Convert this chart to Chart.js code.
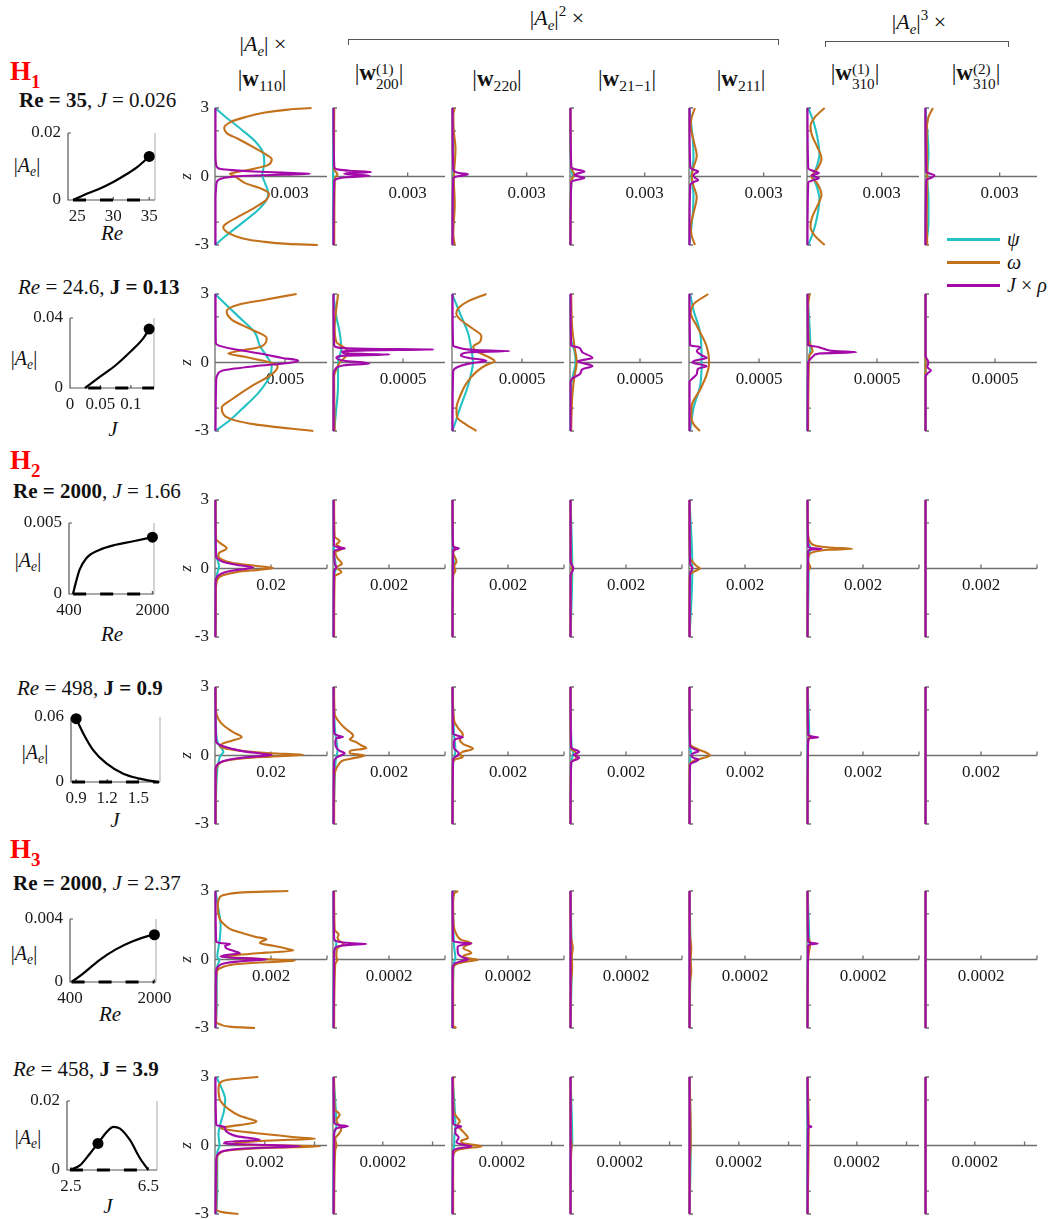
<!DOCTYPE html>
<html>
<head>
<meta charset="utf-8">
<script src="https://cdn.jsdelivr.net/npm/chart.js@4.4.1/dist/chart.umd.min.js"></script>
<style>
  body { margin: 0; background: #fff; }
  #fig { position: relative; width: 1057px; height: 1219px; overflow: hidden; background: #fff;
         font-family: "Liberation Serif", "Times New Roman", serif; color: #111; }
  #fig canvas { position: absolute; }
  .t { position: absolute; white-space: nowrap; transform: translate(-50%, -50%); line-height: 1; }
  .t sub { font-size: 68%; vertical-align: -0.32em; line-height: 0; }
  .t sup { font-size: 68%; vertical-align: 0.6em; line-height: 0; }
  .st { display: inline-block; vertical-align: -0.6em; font-size: 66%; line-height: 1.0; }
  .st > span { display: block; }
  .bracket { position: absolute; border: 1.3px solid #555; border-bottom: none; height: 5px; }
  .lg { position: absolute; height: 3px; width: 53px; }
</style>
</head>
<body>
<div id="fig"></div>
<script>
// ---------- curve colours ----------
const PSI = '#25c1c3', OMEGA = '#c3711b', JRHO = '#a40aa9';
const AXIS = '#6f6f6f', INK = '#1a1a1a';
const FONT = '"Liberation Serif","Times New Roman",serif';

// ---------- row parameters ----------
const rowRe = [35, 24.6, 2000, 498, 2000, 458];
const rowJ = [0.026, 0.13, 1.66, 0.9, 2.37, 3.9];
const rowBold = ['Re', 'J', 'Re', 'J', 'Re', 'J'];
const rowBranch = ['1', null, '2', null, '3', null];

// ---------- axis limits and ticks of the profile panels ----------
const zLabels = [3, 0, -3];
const zTickMarks = [-3, -2, 2, 3];
const rowXmax = [[0.0045, 0.0045], [0.008, 0.0008], [0.04, 0.004], [0.04, 0.004], [0.004, 0.0004], [0.0045, 0.00045]];
const rowXticks = [
  [[0.003], [0.003]], [[0.005], [0.0005]],
  [[0.02, 0.04], [0.002, 0.004]], [[0.02, 0.04], [0.002, 0.004]],
  [[0.002, 0.004], [0.0002, 0.0004]], [[0.002, 0.004], [0.0002, 0.0004]]
];
const modeSub = ['110', '200', '220', '21\u22121', '211', '310', '310'];
const modeSup = [null, '1', null, null, null, '1', '2'];

// ---------- profiles: pairs of (z, |component|), one list per mode ----------
const psiR1 = [
  [3,0, 2.63,0.0004, 2.05,0.00107, 1.54,0.00161, 1.02,0.00194, 0.59,0.00198, 0.07,0.0019, -0.29,0.00201, -0.73,0.00214, -1.02,0.00207, -1.46,0.00174, -2.05,0.00107, -2.63,0.0004, -3,0],
  [3,0.00001, -3,0.00001],
  [3,0.00004, 0,0.00005, -3,0.00004],
  [3,0.00001, 0.3,0.00005, 0,0.00011, -0.3,0.00005, -3,0.00001],
  [3,0.00002, 2.3,0.00009, 1.5,0.00016, 0.8,0.00018, 0,0.00009, -0.8,0.00018, -1.5,0.00016, -2.3,0.00009, -3,0.00002],
  [3,0.00005, 2.5,0.00023, 2,0.00036, 1.5,0.00045, 1,0.0005, 0.5,0.00041, 0,0.00027, -0.5,0.00041, -1,0.0005, -1.5,0.00045, -2,0.00036, -2.5,0.00023, -3,0.00005],
  [3,0.00002, 1,0.00014, 0,0.00009, -1,0.00014, -2,0.00014, -3,0.00005]
];
const omegaR1 = [
  [3,0.00388, 2.93,0.00295, 2.8,0.00201, 2.6,0.00121, 2.37,0.0006, 2.12,0.00037, 1.9,0.00047, 1.64,0.00094, 1.24,0.00161, 0.95,0.00207, 0.76,0.00228, 0.51,0.00214, 0.32,0.00147, 0.18,0.00081, 0.12,0.0006, 0,0.00081, -0.15,0.00101, -0.29,0.00121, -0.51,0.00181, -0.76,0.00217, -1.02,0.00207, -1.35,0.00161, -1.76,0.00094, -2.05,0.00047, -2.22,0.00033, -2.5,0.00059, -2.7,0.00108, -2.85,0.00189, -2.95,0.00293, -3,0.00413],
  [3,0.00005, 1,0.00004, 0.3,0.00005, 0.1,0.00018, -0.1,0.00007, -3,0.00005],
  [3,0.00011, 2.7,0.00005, 2,0.00007, 1.2,0.00014, 0.3,0.00009, 0,0.00007, -1.2,0.00011, -2.5,0.00005, -3,0.00011],
  [3,0.00002, 0.4,0.00005, 0.1,0.00016, -0.2,0.00005, -3,0.00002],
  [3,0.00024, 2.6,0.00011, 2.2,0.00007, 1.6,0.00018, 0.9,0.00031, 0.4,0.00018, 0,0.00011, -0.4,0.00018, -0.9,0.00031, -1.6,0.00018, -2.2,0.00007, -2.6,0.00011, -3,0.00024],
  [3,0.00071, 2.6,0.00032, 2.2,0.00014, 1.8,0.0002, 1.3,0.00041, 0.8,0.00058, 0.4,0.00045, 0.1,0.00023, 0,0.00018, -0.3,0.00041, -0.8,0.00058, -1.3,0.00041, -1.8,0.0002, -2.2,0.00014, -2.6,0.00032, -3,0.00071],
  [3,0.00032, 2.6,0.00014, 2,0.00007, 0,0.00009, -2,0.00007, -3,0.00009]
];
const jrhoR1 = [
  [3,0.00002, 1,0.00002, 0.5,0.00005, 0.4,0.00009, 0.33,0.00023, 0.28,0.00068, 0.22,0.00158, 0.17,0.0027, 0.12,0.00382, 0.08,0.0027, 0.03,0.00135, -0.03,0.00054, -0.1,0.00023, -0.2,0.00009, -0.4,0.00005, -1,0.00002, -3,0.00002],
  [3,0.00002, 0.4,0.00005, 0.3,0.00023, 0.25,0.00068, 0.2,0.00154, 0.15,0.00068, 0.12,0.00045, 0.08,0.0009, 0.03,0.00147, -0.03,0.00054, -0.1,0.00018, -0.2,0.00005, -3,0.00002],
  [3,0.00002, 0.3,0.00005, 0.2,0.00014, 0.14,0.00036, 0.1,0.00064, 0.05,0.00045, 0,0.00018, -0.1,0.00005, -3,0.00002],
  [3,0.00002, 0.4,0.00005, 0.33,0.00018, 0.22,0.00058, 0.12,0.00027, 0.07,0.00018, 0.02,0.00027, -0.07,0.00058, -0.17,0.00018, -0.25,0.00005, -3,0.00002],
  [3,0.00002, 0.4,0.00005, 0.3,0.00018, 0.22,0.00037, 0.12,0.00023, 0.05,0.00018, -0.05,0.00023, -0.15,0.00037, -0.25,0.00018, -0.35,0.00005, -3,0.00002],
  [3,0.00002, 0.35,0.00005, 0.25,0.00023, 0.15,0.00048, 0.05,0.00018, -0.07,0.00048, -0.17,0.00023, -0.25,0.00005, -3,0.00002],
  [3,0.00002, 0.2,0.00005, 0.05,0.00038, -0.05,0.00027, -0.15,0.00005, -3,0.00002]
];

const psiR2 = [
  [3,0, 2.02,0.00166, 1.3,0.00286, 0.71,0.00322, 0.28,0.00369, -0.16,0.00405, -0.6,0.00392, -1.33,0.0031, -2.05,0.0019, -2.64,0.00083, -3,0],
  [3,0.0000024, 2,0.000024, 1.3,0.000048, 0.6,0.000059, 0,0.000036, -1,0.000036, -2,0.000024, -3,0.000008],
  [3,0, 2.02,0.000066, 1.3,0.000114, 0.57,0.000138, 0,0.00015, -0.45,0.000138, -1.03,0.000114, -2.05,0.000054, -2.9,0.000008, -3,0],
  [3,0.000004, 1,0.000008, 0.5,0.000032, 0,0.00004, -0.5,0.000024, -1,0.000008, -3,0.000004],
  [3,0.000008, 2.3,0.000032, 1.3,0.00008, 0,0.00009, -1,0.00008, -2,0.000032, -3,0.000008],
  [3,0.000004, 0.6,0.000024, 0,0.000008, -3,0.000004],
  [3,0.000004, -3,0.000004]
];
const omegaR2 = [
  [3,0.00583, 2.75,0.00357, 2.53,0.00166, 2.24,0.00083, 1.88,0.00119, 1.44,0.00262, 1.08,0.00369, 0.71,0.00334, 0.5,0.00166, 0.39,0.00095, 0.25,0.00214, -0.02,0.00405, -0.16,0.00448, -0.52,0.00405, -1.03,0.00262, -1.62,0.00119, -1.98,0.00048, -2.34,0.00071, -2.71,0.00286, -3,0.00702],
  [3,0.000036, 1.5,0.000012, 0.9,0.000024, 0.5,0.000107, 0.3,0.000096, 0,0.000048, -0.3,0.000024, -0.6,0.000008, -3,0.000012],
  [3,0.000246, 2.7,0.00012, 2.4,0.000048, 2.15,0.000031, 1.9,0.000056, 1.5,0.000144, 1.15,0.00021, 0.9,0.0002, 0.7,0.000152, 0.55,0.00016, 0.35,0.000224, 0.15,0.000288, 0.05,0.000305, -0.1,0.000248, -0.4,0.000176, -0.9,0.000104, -1.5,0.000056, -2,0.000032, -2.4,0.000036, -2.7,0.000096, -3,0.000174],
  [3,0.000008, 1.5,0.000016, 0.7,0.000032, 0,0.000048, -0.6,0.000032, -1.5,0.000016, -3,0.000008],
  [3,0.000138, 2.6,0.00004, 2.17,0.000012, 1.6,0.000056, 0.71,0.000126, 0,0.000144, -0.5,0.000128, -1.18,0.00008, -1.9,0.000019, -2.4,0.000016, -2.7,0.000032, -3,0.000078],
  [3,0.000019, 2.5,0.000008, 1,0.000012, 0.5,0.00004, 0.3,0.000016, -3,0.000008],
  [3,0.000004, -3,0.000004]
];
const jrhoR2 = [
  [3,0.00004, 0.85,0.00006, 0.75,0.00024, 0.6,0.0012, 0.5,0.00216, 0.35,0.0036, 0.2,0.0048, 0.09,0.00595, -0.02,0.00524, -0.16,0.00286, -0.33,0.00071, -0.52,0.00019, -0.8,0.00008, -3,0.00004],
  [3,0.000004, 0.75,0.000008, 0.65,0.00004, 0.6,0.00024, 0.57,0.00072, 0.53,0.00024, 0.47,0.000064, 0.4,0.00008, 0.35,0.000405, 0.3,0.00008, 0.2,0.000024, 0.08,0.00008, -0.04,0.00026, -0.12,0.00008, -0.3,0.000016, -0.5,0.000004, -3,0.000004],
  [3,0.000004, 0.75,0.000008, 0.65,0.000048, 0.55,0.00016, 0.5,0.000412, 0.45,0.00012, 0.3,0.000064, 0.2,0.00012, 0.08,0.000246, -0.05,0.00012, -0.2,0.00004, -0.4,0.000008, -3,0.000004],
  [3,0.000004, 0.75,0.000008, 0.65,0.000064, 0.45,0.000088, 0.2,0.00016, 0.05,0.000056, -0.15,0.00016, -0.3,0.000088, -0.5,0.000072, -0.7,0.000016, -0.9,0.000004, -3,0.000004],
  [3,0.000004, 0.75,0.000008, 0.68,0.00008, 0.5,0.000056, 0.3,0.000096, 0.2,0.000126, 0.08,0.00004, 0,0.000024, -0.16,0.000126, -0.28,0.000064, -0.5,0.000056, -0.7,0.000024, -0.85,0.000004, -3,0.000004],
  [3,0.000004, 0.75,0.000008, 0.68,0.00008, 0.6,0.00012, 0.5,0.0002, 0.45,0.000352, 0.4,0.000096, 0.3,0.000048, 0.15,0.000024, 0,0.000008, -3,0.000004],
  [3,0.000004, 0.3,0.000004, 0,0.000024, -0.2,0.000016, -0.35,0.000043, -0.45,0.000024, -0.6,0.000004, -3,0.000004]
];

const psiR3 = [
  [3,0.0002, 1,0.00024, 0.5,0.0006, 0.1,0.00144, -0.2,0.0008, -0.6,0.00032, -3,0.0002],
  [3,0.00002, 0.6,0.00004, 0.3,0.00008, 0,0.0001, -0.3,0.00004, -3,0.00002],
  [3,0.00002, 0.5,0.00004, 0.2,0.00008, -0.2,0.00004, -3,0.00002],
  [3,0.00002, 0,0.00008, -3,0.00002],
  [3,0.00002, 0,0.00012, -3,0.00002],
  [3,0.00002, 1.2,0.00004, 0.86,0.00012, 0.5,0.00004, 0,0.00006, -3,0.00002],
  [3,0.00002, -3,0.00002]
];
const omegaR3 = [
  [3,0.0002, 1.3,0.00032, 1.1,0.002, 0.88,0.00416, 0.7,0.0016, 0.55,0.0012, 0.4,0.0024, 0.25,0.006, 0.15,0.012, 0.07,0.018, 0.02,0.0208, -0.05,0.016, -0.15,0.008, -0.3,0.0028, -0.5,0.0008, -1,0.00032, -3,0.0002],
  [3,0.00004, 1.4,0.00006, 1.2,0.00024, 1.05,0.00012, 0.88,0.00032, 0.7,0.00008, 0.45,0.00016, 0.2,0.00032, 0.05,0.00012, -0.15,0.0003, -0.35,0.00006, -3,0.00004],
  [3,0.00002, 1,0.00004, 0.88,0.00014, 0.7,0.00004, 0.3,0.00016, 0.1,0.00008, -0.1,0.00012, -0.3,0.00004, -3,0.00002],
  [3,0.00002, 0.3,0.00004, 0,0.00008, -0.3,0.00004, -3,0.00002],
  [3,0.00002, 0.5,0.00003, 0.3,0.00012, 0.1,0.00028, 0,0.00039, -0.1,0.00024, -0.21,0.00008, -0.4,0.00002, -3,0.00002],
  [3,0.00002, 1.5,0.00004, 1.15,0.00012, 1,0.00032, 0.92,0.0008, 0.86,0.00162, 0.82,0.0008, 0.72,0.00024, 0.6,0.00008, 0.3,0.00004, 0.05,0.00012, -0.1,0.00004, -3,0.00002],
  [3,0.00002, -3,0.00002]
];
const jrhoR3 = [
  [3,0.00016, 0.5,0.0004, 0.37,0.0016, 0.25,0.004, 0.15,0.008, 0.05,0.01368, 0,0.012, -0.1,0.006, -0.2,0.0028, -0.35,0.0008, -0.6,0.0002, -3,0.00016],
  [3,0.00002, 1,0.00004, 0.92,0.00024, 0.88,0.00042, 0.84,0.0002, 0.75,0.00004, 0.2,0.00006, 0.05,0.00012, -0.1,0.00004, -3,0.00002],
  [3,0.00002, 0.95,0.00004, 0.88,0.00024, 0.82,0.00004, -3,0.00002],
  [3,0.00002, 0.3,0.00002, 0,0.00012, -0.3,0.00002, -3,0.00002],
  [3,0.00002, 0.2,0.00004, 0,0.00012, -0.2,0.00004, -3,0.00002],
  [3,0.00002, 0.95,0.00004, 0.88,0.00024, 0.86,0.00052, 0.83,0.0002, 0.78,0.00004, -3,0.00002],
  [3,0.00002, -3,0.00002]
];

const psiR4 = [
  [3,0.0002, 1,0.0004, 0.5,0.0012, 0.15,0.003, 0,0.002, -0.3,0.0012, -1,0.0006, -3,0.0002],
  [3,0.00002, 1,0.00008, 0.5,0.00014, 0.15,0.00016, 0,0.00012, -0.5,0.00008, -3,0.00002],
  [3,0.00002, 0.8,0.00008, 0.3,0.00012, 0,0.0001, -0.3,0.00004, -3,0.00002],
  [3,0.00002, 0.3,0.00006, 0.1,0.00012, -0.1,0.00008, -0.4,0.00004, -3,0.00002],
  [3,0.00002, 0.3,0.00004, 0.1,0.00008, -0.2,0.00004, -3,0.00002],
  [3,0.00002, 0.8,0.00008, 0.5,0.00002, -3,0.00002],
  [3,0.00002, -3,0.00002]
];
const omegaR4 = [
  [3,0.00024, 2,0.00032, 1.6,0.0012, 1.3,0.0032, 1,0.0068, 0.8,0.00952, 0.65,0.006, 0.5,0.0024, 0.39,0.0018, 0.3,0.004, 0.2,0.01, 0.1,0.02, 0.03,0.03156, -0.05,0.02, -0.12,0.01072, -0.25,0.0032, -0.4,0.0012, -0.7,0.0004, -3,0.00024],
  [3,0.00004, 1.8,0.00006, 1.5,0.0002, 1.2,0.00042, 0.95,0.00068, 0.85,0.00072, 0.7,0.0006, 0.6,0.0008, 0.45,0.001, 0.32,0.00119, 0.2,0.0006, 0.1,0.0006, 0,0.00113, -0.1,0.0008, -0.2,0.0004, -0.4,0.0002, -0.7,0.00008, -1,0.00005, -3,0.00004],
  [3,0.00002, 1.5,0.00008, 1.2,0.00022, 0.9,0.00039, 0.7,0.00028, 0.5,0.0004, 0.3,0.00075, 0.15,0.00036, 0.05,0.00028, -0.05,0.00039, -0.2,0.00008, -0.4,0.00003, -3,0.00002],
  [3,0.00002, 0.3,0.00004, 0.15,0.0002, 0,0.00024, -0.15,0.0002, -0.3,0.00004, -3,0.00002],
  [3,0.00002, 0.5,0.00004, 0.36,0.00016, 0.2,0.00048, 0.05,0.00072, 0,0.00075, -0.08,0.0006, -0.2,0.00024, -0.3,0.00008, -0.5,0.00002, -3,0.00002],
  [3,0.00002, 1,0.00004, 0.8,0.00008, 0.6,0.00004, -3,0.00002],
  [3,0.00002, -3,0.00002]
];
const jrhoR4 = [
  [3,0.00016, 0.6,0.0004, 0.45,0.002, 0.3,0.006, 0.17,0.0108, 0.08,0.0168, 0.02,0.02024, -0.05,0.014, -0.12,0.008, -0.25,0.0028, -0.4,0.0008, -0.6,0.0002, -3,0.00016],
  [3,0.00002, 1,0.00004, 0.86,0.0002, 0.82,0.00036, 0.75,0.00012, 0.55,0.00008, 0.35,0.00012, 0.2,0.00024, 0.1,0.00042, 0,0.00028, -0.1,0.00012, -0.25,0.00004, -3,0.00002],
  [3,0.00002, 0.95,0.00004, 0.85,0.00024, 0.8,0.00039, 0.72,0.00012, 0.5,0.00006, 0.3,0.00008, 0.1,0.00024, 0,0.0002, -0.15,0.00004, -3,0.00002],
  [3,0.00002, 0.35,0.00004, 0.15,0.00033, 0.03,0.00012, -0.1,0.00033, -0.3,0.00004, -3,0.00002],
  [3,0.00002, 0.4,0.00004, 0.3,0.00016, 0.19,0.00034, 0.1,0.00016, 0,0.00008, -0.1,0.00016, -0.19,0.00034, -0.3,0.00016, -0.4,0.00004, -3,0.00002],
  [3,0.00002, 0.9,0.00004, 0.82,0.00024, 0.8,0.0004, 0.77,0.00016, 0.7,0.00004, -3,0.00002],
  [3,0.00002, -3,0.00002]
];

const psiR5 = [
  [3,0.00002, 2.5,0.00008, 1.5,0.0002, 1,0.00018, 0.5,0.00012, 0.1,0.00008, 0,0.00016, -0.3,0.00008, -1,0.00006, -2,0.00006, -3,0.00002],
  [3,0.000002, 0.9,0.000004, 0.7,0.000012, 0.3,0.000004, -3,0.000002],
  [3,0.000002, 1,0.000006, 0.5,0.000008, 0.1,0.000012, -0.2,0.000006, -3,0.000002],
  [3,0.000002, 0,0.000006, -3,0.000002],
  [3,0.000002, 0.3,0.000005, -3,0.000002],
  [3,0.000002, 0.7,0.000008, 0.3,0.000004, -3,0.000002],
  [3,0.000002, -3,0.000002]
];
const omegaR5 = [
  [3,0.00262, 2.95,0.0012, 2.85,0.0004, 2.7,0.00016, 2.4,0.0001, 2,0.00012, 1.7,0.0002, 1.5,0.00036, 1.3,0.0006, 1.15,0.001, 1,0.00143, 0.88,0.00184, 0.8,0.00168, 0.72,0.0016, 0.6,0.00208, 0.45,0.00264, 0.39,0.0028, 0.3,0.0018, 0.2,0.0008, 0.12,0.00024, 0.05,0.0012, -0.02,0.0024, -0.06,0.00286, -0.12,0.0018, -0.2,0.0008, -0.35,0.00024, -0.5,0.00008, -1,0.00004, -2.7,0.00004, -2.85,0.0002, -2.95,0.0006, -3,0.00143],
  [3,0.000004, 1.3,0.000006, 1.1,0.00002, 0.95,0.000016, 0.8,0.000024, 0.68,0.00004, 0.55,0.00002, 0.3,0.000012, 0.1,0.000012, 0,0.000016, -0.2,0.000008, -3,0.000004],
  [3,0.000022, 2.9,0.000008, 2.5,0.000004, 1.5,0.000006, 1.1,0.000016, 0.86,0.000033, 0.72,0.000069, 0.6,0.000048, 0.5,0.00004, 0.35,0.000064, 0.28,0.000069, 0.15,0.00004, 0.05,0.00006, -0.01,0.000093, -0.1,0.000048, -0.2,0.000016, -0.4,0.000004, -2.9,0.000004, -3,0.000016],
  [3,0.000002, 1,0.000004, 0.5,0.00001, 0.1,0.000006, -0.3,0.000008, -1,0.000004, -3,0.000002],
  [3,0.000002, 1,0.000004, 0.5,0.000008, 0,0.000006, -0.5,0.000008, -1,0.000004, -3,0.000002],
  [3,0.000002, 1,0.000004, 0.7,0.000012, 0.4,0.000008, 0,0.000004, -3,0.000002],
  [3,0.000002, -3,0.000002]
];
const jrhoR5 = [
  [3,0.00002, 0.8,0.00004, 0.72,0.0002, 0.68,0.00054, 0.6,0.00036, 0.5,0.0004, 0.35,0.00072, 0.27,0.00089, 0.2,0.0004, 0.13,0.0002, 0.08,0.0006, 0.04,0.0014, 0,0.00184, -0.05,0.0012, -0.15,0.0004, -0.3,0.00012, -0.5,0.00004, -3,0.00002],
  [3,0.000002, 0.9,0.000004, 0.78,0.00002, 0.72,0.00006, 0.68,0.000119, 0.64,0.00006, 0.58,0.00002, 0.5,0.000008, 0.3,0.000004, -3,0.000002],
  [3,0.000002, 0.8,0.000004, 0.73,0.00004, 0.7,0.000069, 0.65,0.00004, 0.55,0.00002, 0.4,0.00002, 0.2,0.000024, 0.08,0.00004, 0,0.000057, -0.08,0.000032, -0.2,0.000008, -0.4,0.000002, -3,0.000002],
  [3,0.000002, -3,0.000002],
  [3,0.000002, -3,0.000002],
  [3,0.000002, 0.8,0.000004, 0.72,0.00002, 0.7,0.000038, 0.67,0.000016, 0.6,0.000004, -3,0.000002],
  [3,0.000002, -3,0.000002]
];

const psiR6 = [
  [3,0.00005, 2.5,0.00027, 2,0.00041, 1.5,0.00036, 1,0.00023, 0.5,0.00014, 0,0.00018, -0.3,0.00009, -1,0.00009, -2,0.00009, -3,0.00005],
  [3,0.0000023, 0.84,0.0000135, 0.5,0.0000045, -3,0.0000023],
  [3,0.0000023, 0.8,0.0000135, 0.3,0.000009, 0,0.000009, -0.3,0.0000045, -3,0.0000023],
  [3,0.0000023, 0.1,0.000009, -0.2,0.0000045, -3,0.0000023],
  [3,0.0000023, 0,0.0000068, -3,0.0000023],
  [3,0.0000023, -3,0.0000023],
  [3,0.0000023, -3,0.0000023]
];
const omegaR6 = [
  [3,0.00174, 2.9,0.00068, 2.8,0.00027, 2.5,0.00014, 2,0.0002, 1.6,0.00054, 1.3,0.00099, 1.1,0.00158, 1.05,0.00167, 0.95,0.00135, 0.85,0.00068, 0.77,0.00023, 0.7,0.00045, 0.55,0.00158, 0.45,0.00248, 0.35,0.00338, 0.3,0.00402, 0.22,0.00225, 0.12,0.0009, 0.05,0.00068, 0.01,0.00225, -0.04,0.00422, -0.1,0.00225, -0.2,0.00068, -0.35,0.00018, -0.6,0.00007, -2.8,0.00005, -2.93,0.00036, -3,0.00094],
  [3,0.0000045, 1.6,0.0000068, 1.35,0.000027, 1.1,0.0000135, 0.84,0.000027, 0.7,0.000033, 0.5,0.0000225, 0.3,0.000009, 0,0.0000135, -0.2,0.000009, -3,0.0000045],
  [3,0.000009, 2.9,0.0000045, 1.5,0.0000068, 1.2,0.0000225, 1.05,0.0000315, 0.9,0.0000225, 0.7,0.000036, 0.5,0.000054, 0.33,0.0000644, 0.2,0.000036, 0.1,0.000045, -0.04,0.000118, -0.12,0.000054, -0.25,0.0000135, -0.5,0.0000045, -3,0.0000045],
  [3,0.0000023, 0.3,0.0000045, 0,0.0000068, -0.3,0.0000045, -3,0.0000023],
  [3,0.0000023, 0.5,0.0000068, 0,0.0000068, -0.5,0.0000045, -3,0.0000023],
  [3,0.0000023, 0.8,0.0000068, -3,0.0000023],
  [3,0.0000023, -3,0.0000023]
];
const jrhoR6 = [
  [3,0.00002, 0.9,0.00005, 0.84,0.00027, 0.8,0.00041, 0.7,0.00041, 0.55,0.00054, 0.4,0.0009, 0.25,0.0018, 0.15,0.00045, 0.08,0.00036, 0.02,0.00225, -0.04,0.00342, -0.1,0.0018, -0.18,0.00068, -0.35,0.00014, -0.6,0.00005, -3,0.00002],
  [3,0.0000023, 1,0.0000045, 0.9,0.0000225, 0.84,0.00006, 0.78,0.0000225, 0.7,0.000009, 0.5,0.0000045, -3,0.0000023],
  [3,0.0000023, 0.95,0.0000045, 0.86,0.0000225, 0.83,0.0000374, 0.75,0.0000135, 0.55,0.0000135, 0.35,0.000027, 0.15,0.000018, 0.05,0.000036, -0.04,0.0000779, -0.12,0.000027, -0.25,0.0000045, -3,0.0000023],
  [3,0.0000023, -3,0.0000023],
  [3,0.0000023, -3,0.0000023],
  [3,0.0000023, 0.88,0.0000045, 0.82,0.000018, 0.78,0.0000045, -3,0.0000023],
  [3,0.0000023, -3,0.0000023]
];

// ---------- bifurcation branches (|A_e| against Re or J) ----------
const branchParamR1 = [24.4, 26, 28, 30, 32, 33.5, 35];
const branchAmpR1   = [0, 0.0016, 0.0033, 0.0054, 0.0079, 0.0101, 0.013];
const branchParamR2 = [0.0246, 0.05, 0.075, 0.1, 0.12, 0.13];
const branchAmpR2   = [0, 0.0066, 0.013, 0.021, 0.0282, 0.0337];
const branchParamR3 = [476, 527, 602, 729, 980, 1296, 1610, 2000];
const branchAmpR3   = [0, 0.00075, 0.0017, 0.0025, 0.0031, 0.00347, 0.0037, 0.004];
const branchParamR4 = [0.9, 0.97, 1.066, 1.195, 1.355, 1.515, 1.676];
const branchAmpR4   = [0.0585, 0.0446, 0.0292, 0.0169, 0.0077, 0.0031, 0];
const branchParamR5 = [431, 648, 958, 1268, 1578, 1888, 2000];
const branchAmpR5   = [0, 0.00053, 0.00139, 0.00207, 0.00257, 0.00293, 0.003];
const branchParamR6 = [2.46, 2.98, 3.49, 3.9, 4.35, 4.7, 5.04, 5.55, 6.07, 6.5];
const branchAmpR6   = [0, 0.0014, 0.0048, 0.0077, 0.011, 0.0125, 0.012, 0.0087, 0.0034, 0];
const selectedAmp   = [0.013, 0.0337, 0.004, 0.0585, 0.003, 0.0077];
const trivialSpan   = [[24.4, 35], [0.03, 0.138], [480, 2000], [0.86, 1.7], [430, 2000], [2.45, 6.5]];
const branchXlim    = [[23.7, 35.8], [0, 0.138], [400, 2030], [0.85, 1.71], [400, 2030], [2.3, 6.95]];
const branchYmax    = [0.02, 0.04, 0.005, 0.06, 0.004, 0.02];
const branchXticks  = [[25, 30, 35], [0, 0.05, 0.1], [400, 2000], [0.9, 1.2, 1.5], [400, 2000], [2.5, 6.5]];

// ---------- assembled lookups ----------
const psiRows = [psiR1, psiR2, psiR3, psiR4, psiR5, psiR6];
const omegaRows = [omegaR1, omegaR2, omegaR3, omegaR4, omegaR5, omegaR6];
const jrhoRows = [jrhoR1, jrhoR2, jrhoR3, jrhoR4, jrhoR5, jrhoR6];
const branchParams = [branchParamR1, branchParamR2, branchParamR3, branchParamR4, branchParamR5, branchParamR6];
const branchAmps = [branchAmpR1, branchAmpR2, branchAmpR3, branchAmpR4, branchAmpR5, branchAmpR6];

// ---------- page geometry ----------
const layout = {
  panelLeft0: 215, panelStep: 118.4, panelW: 112, panelH: 137,
  rowTop: [108, 294, 500, 687, 891, 1077],
  insetBox: [[68,133,87,67], [70,318,84,70], [69,523,85,71], [71,717,89,65], [70,919,86,63], [67,1101,90,69]],
  insetYLabel: [[27,165], [24,358], [28,560], [35,752], [24,953], [28,1137]],
  insetXLabel: [[112,233], [113,429], [112,634], [115,820], [110,1014], [108,1206]],
  titlePos: [[19,100], [18,287], [13,491], [17,688], [13,883], [13,1069]],
  branchPos: [58, null, 447, null, 836, null],
  colCenter: [262, 379, 497, 627, 741, 855, 976]
};

const fig = document.getElementById('fig');

function put(html, x, y, css) {
  const d = document.createElement('div');
  d.className = 't';
  d.innerHTML = html;
  d.style.left = x + 'px';
  d.style.top = y + 'px';
  Object.assign(d.style, css || {});
  fig.appendChild(d);
  return d;
}

function pairs(flat) {
  const out = [];
  for (let i = 0; i < flat.length; i += 2) out.push({ x: flat[i + 1], y: flat[i] });
  return out.reverse();
}

// axes of a profile panel: horizontal axis through z = 0, vertical axis at 0
const profileAxes = {
  id: 'profileAxes',
  beforeDatasetsDraw(chart, args, o) {
    const { ctx } = chart;
    const xs = chart.scales.x, ys = chart.scales.y;
    const x0 = xs.getPixelForValue(0), x1 = xs.getPixelForValue(xs.max);
    const y0 = ys.getPixelForValue(0), yt = ys.getPixelForValue(3), yb = ys.getPixelForValue(-3);
    ctx.save();
    ctx.strokeStyle = AXIS;
    ctx.lineWidth = 1.3;
    ctx.beginPath();
    ctx.moveTo(x0, y0); ctx.lineTo(x1, y0);
    ctx.moveTo(x0, yt); ctx.lineTo(x0, yb);
    o.ticks.forEach(t => { const px = xs.getPixelForValue(t); ctx.moveTo(px, y0); ctx.lineTo(px, y0 - 4); });
    zTickMarks.forEach(t => { const py = ys.getPixelForValue(t); ctx.moveTo(x0, py); ctx.lineTo(x0 + 4, py); });
    ctx.stroke();
    ctx.fillStyle = INK;
    ctx.font = '17px ' + FONT;
    ctx.textAlign = 'center';
    ctx.textBaseline = 'middle';
    ctx.fillText(String(o.ticks[0]), xs.getPixelForValue(o.ticks[0]), y0 + 17);
    if (o.first) {
      ctx.textAlign = 'right';
      zLabels.forEach(z => ctx.fillText(z < 0 ? '-' + Math.abs(z) : String(z), x0 - 6, ys.getPixelForValue(z)));
      ctx.save();
      ctx.translate(x0 - 28, y0);
      ctx.rotate(-Math.PI / 2);
      ctx.textAlign = 'center';
      ctx.font = 'italic 17px ' + FONT;
      ctx.fillText('z', 0, 0);
      ctx.restore();
    }
    ctx.restore();
  }
};

// axes of a bifurcation diagram
const branchAxes = {
  id: 'branchAxes',
  beforeDatasetsDraw(chart, args, o) {
    const { ctx } = chart;
    const xs = chart.scales.x, ys = chart.scales.y;
    const l = xs.getPixelForValue(xs.min), r = xs.getPixelForValue(xs.max);
    const b = ys.getPixelForValue(0), t = ys.getPixelForValue(ys.max);
    ctx.save();
    ctx.lineWidth = 1.2;
    ctx.strokeStyle = '#b8b8b8';
    ctx.beginPath(); ctx.moveTo(r, t); ctx.lineTo(r, b); ctx.stroke();
    ctx.strokeStyle = '#555';
    ctx.beginPath();
    ctx.moveTo(l, t); ctx.lineTo(l, b); ctx.lineTo(r, b);
    [0, ys.max].forEach(v => { const py = ys.getPixelForValue(v); ctx.moveTo(l, py); ctx.lineTo(l + 3, py); });
    o.ticks.forEach(v => { const px = xs.getPixelForValue(v); ctx.moveTo(px, b); ctx.lineTo(px, b - 3); });
    ctx.stroke();
    ctx.fillStyle = INK;
    ctx.font = '17px ' + FONT;
    ctx.textBaseline = 'middle';
    ctx.textAlign = 'right';
    ctx.fillText('0', l - 7, b);
    ctx.fillText(String(ys.max), l - 7, t);
    ctx.textAlign = 'center';
    o.ticks.forEach(v => ctx.fillText(String(v), xs.getPixelForValue(v), b + 17));
    ctx.restore();
  }
};

function profilePanel(row, k) {
  const L = Math.round(layout.panelLeft0 + layout.panelStep * k);
  const T = layout.rowTop[row], W = layout.panelW, H = layout.panelH;
  const pad = { left: 36, right: 6, top: 8, bottom: 10 };
  const cv = document.createElement('canvas');
  cv.width = W + pad.left + pad.right;
  cv.height = H + pad.top + pad.bottom;
  cv.style.left = (L - pad.left) + 'px';
  cv.style.top = (T - pad.top) + 'px';
  fig.appendChild(cv);
  const first = k === 0;
  const line = (flat, color) => ({ data: pairs(flat), borderColor: color, borderWidth: 2.1, clip: false,
    pointRadius: 0, cubicInterpolationMode: 'monotone', fill: false });
  new Chart(cv, {
    type: 'line',
    data: { datasets: [
      line(jrhoRows[row][k], JRHO),
      line(omegaRows[row][k], OMEGA),
      line(psiRows[row][k], PSI)
    ] },
    options: {
      indexAxis: 'y', responsive: false, animation: false, events: [],
      layout: { padding: pad },
      scales: {
        x: { type: 'linear', min: 0, max: rowXmax[row][first ? 0 : 1], display: false },
        y: { type: 'linear', min: -3, max: 3, display: false }
      },
      plugins: { legend: { display: false }, tooltip: { enabled: false },
        profileAxes: { ticks: rowXticks[row][first ? 0 : 1], first } }
    },
    plugins: [profileAxes]
  });
}

function branchPanel(row) {
  const [L, T, W, H] = layout.insetBox[row];
  const pad = { left: 56, right: 30, top: 10, bottom: 30 };
  const cv = document.createElement('canvas');
  cv.width = W + pad.left + pad.right;
  cv.height = H + pad.top + pad.bottom;
  cv.style.left = (L - pad.left) + 'px';
  cv.style.top = (T - pad.top) + 'px';
  fig.appendChild(cv);
  const param = branchParams[row], amp = branchAmps[row];
  const selX = rowBold[row] === 'Re' ? rowRe[row] : rowJ[row];
  new Chart(cv, {
    type: 'line',
    data: { datasets: [
      { data: [{ x: selX, y: selectedAmp[row] }], showLine: false, pointRadius: 5.5,
        pointBackgroundColor: '#000', pointBorderWidth: 0, clip: false },
      { data: param.map((p, i) => ({ x: p, y: amp[i] })), borderColor: '#000', borderWidth: 2.2,
        pointRadius: 0, cubicInterpolationMode: 'monotone', clip: false },
      { data: trivialSpan[row].map(p => ({ x: p, y: 0 })), borderColor: '#000', borderWidth: 3,
        borderDash: [13, 14], pointRadius: 0, clip: false }
    ] },
    options: {
      responsive: false, animation: false, events: [],
      layout: { padding: pad },
      scales: {
        x: { type: 'linear', min: branchXlim[row][0], max: branchXlim[row][1], display: false },
        y: { type: 'linear', min: 0, max: branchYmax[row], display: false }
      },
      plugins: { legend: { display: false }, tooltip: { enabled: false },
        branchAxes: { ticks: branchXticks[row] } }
    },
    plugins: [branchAxes]
  });
}

// ---------- column headings ----------
const Ae = '|<i>A</i><sub><i>e</i></sub>|';
put(Ae + ' &times;', 263, 44, { fontSize: '22px' });
put(Ae + '<sup>2</sup> &times;', 557, 18, { fontSize: '22px' });
put(Ae + '<sup>3</sup> &times;', 919, 22, { fontSize: '22px' });
[[348, 39, 429], [825, 41, 182]].forEach(([x, y, w]) => {
  const b = document.createElement('div');
  b.className = 'bracket';
  b.style.left = x + 'px'; b.style.top = y + 'px'; b.style.width = w + 'px';
  fig.appendChild(b);
});
modeSub.forEach((s, i) => {
  const sup = modeSup[i];
  const idx = sup ? `<span class="st"><span>(${sup})</span><span>${s}</span></span>` : `<sub>${s}</sub>`;
  put(`|<b>w</b>${idx}|`, layout.colCenter[i], sup ? 76 : 78, { fontSize: '23px' });
});

// ---------- legend ----------
[[PSI, '<i>\u03c8</i>', 239], [OMEGA, '<i>\u03c9</i>', 262], [JRHO, '<i>J</i> &times; <i>\u03c1</i>', 285]].forEach(([c, lbl, y]) => {
  const s = document.createElement('div');
  s.className = 'lg';
  s.style.left = '947px'; s.style.top = (y - 1.5) + 'px'; s.style.background = c;
  fig.appendChild(s);
  put(lbl, 1007, y, { fontSize: '20px', transform: 'translate(0,-50%)' });
});

// ---------- rows ----------
for (let r = 0; r < 6; r++) {
  if (rowBranch[r]) {
    put(`<b>H<sub style="font-size:70%;vertical-align:-0.4em">${rowBranch[r]}</sub></b>`, 10, layout.branchPos[r],
      { fontSize: '27px', color: '#ff0000', transform: 'none' });
  }
  const reTxt = rowBold[r] === 'Re' ? `<b>Re = ${rowRe[r]}</b>` : `<i>Re</i> = ${rowRe[r]}`;
  const jTxt = rowBold[r] === 'J' ? `<b>J = ${rowJ[r]}</b>` : `<i>J</i> = ${rowJ[r]}`;
  const [tx, ty] = layout.titlePos[r];
  put(`${reTxt}, ${jTxt}`, tx, ty, { fontSize: '21px', transform: 'translate(0,-50%)' });
  put(Ae, layout.insetYLabel[r][0], layout.insetYLabel[r][1], { fontSize: '20px' });
  put(`<i>${r % 2 === 0 ? 'Re' : 'J'}</i>`, layout.insetXLabel[r][0], layout.insetXLabel[r][1], { fontSize: '21px' });
  branchPanel(r);
  for (let k = 0; k < 7; k++) profilePanel(r, k);
}
</script>
</body>
</html>
